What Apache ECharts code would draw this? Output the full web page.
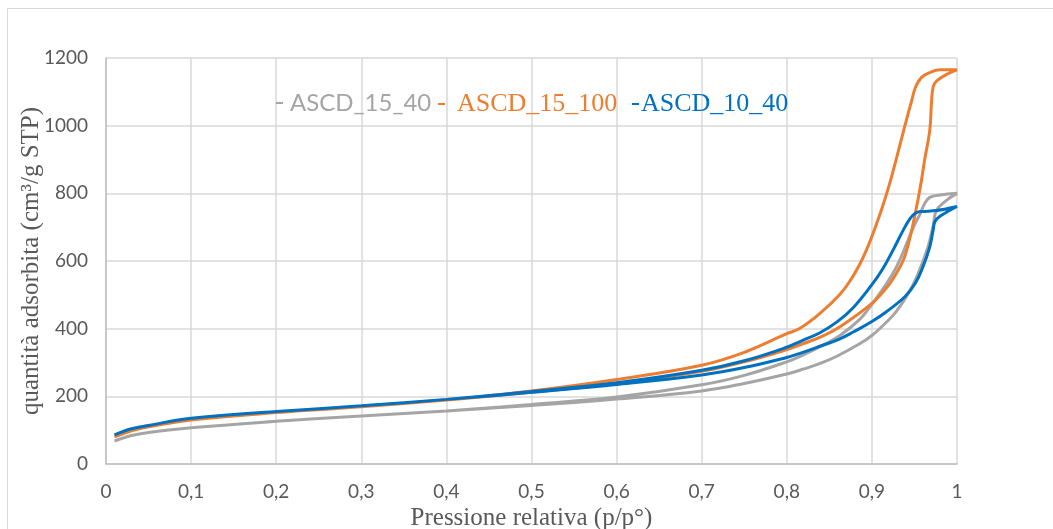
<!DOCTYPE html>
<html>
<head>
<meta charset="utf-8">
<script src="https://cdn.jsdelivr.net/npm/echarts@6/dist/echarts.min.js"></script>
<style>html,body{margin:0;padding:0;background:#fff}#c{width:1053px;height:529px}</style>
</head>
<body>
<div id="c"></div>
<script>
// Series names
const seriesNames = ['ASCD_15_40', 'ASCD_15_100', 'ASCD_10_40'];
const xTicks = [0, 0.1, 0.2, 0.3, 0.4, 0.5, 0.6, 0.7, 0.8, 0.9, 1];
const yTicks = [0, 200, 400, 600, 800, 1000, 1200];

// ASCD_15_40 : adsorption (p up) then desorption (p down)
const gray15_40 = [
  [0.01,68],[0.03,84],[0.05,93],[0.1,107],[0.2,126],[0.3,142],[0.4,157],[0.5,173],
  [0.6,192],[0.7,216],[0.75,238],[0.8,266],[0.82,281],[0.84,298],[0.86,320],[0.886,356],
  [0.9,380],[0.91,402],[0.929,452],[0.945,514],[0.956,573],[0.966,642],[0.972,705],
  [0.976,750],[0.988,780],[1.0,800],
  [0.98,795],[0.968,788],[0.962,770],[0.957,741],[0.949,701],[0.941,652],[0.929,583],
  [0.915,525],[0.9,472],[0.886,428],[0.8625,380],[0.84,348],[0.82,323],[0.8,302],
  [0.75,262],[0.7,234],[0.6,198],[0.5,176],[0.4,157]
];

// ASCD_15_100
const orange15_100 = [
  [0.01,80],[0.03,98],[0.05,110],[0.1,130],[0.2,152],[0.3,169],[0.4,189],[0.5,212],
  [0.6,238],[0.7,274],[0.75,302],[0.8,338],[0.8155,352],[0.84,376],[0.8625,406],
  [0.9,475],[0.917,520],[0.925,548],[0.937,603],[0.945,672],[0.951,741],[0.957,820],
  [0.962,899],[0.968,987],[0.970,1067],[0.972,1115],[0.976,1132],[0.988,1152],[1.0,1165],
  [0.98,1165],[0.968,1157],[0.958,1142],[0.951,1112],[0.947,1076],[0.939,1002],
  [0.929,905],[0.921,830],[0.913,765],[0.904,700],[0.894,635],[0.886,592],[0.874,540],
  [0.8625,502],[0.839,445],[0.8155,401],[0.8,385],[0.75,330],[0.7,292],[0.6,250],
  [0.5,216],[0.4,189]
];

// ASCD_10_40
const blue10_40 = [
  [0.01,86],[0.03,104],[0.05,114],[0.1,135],[0.2,155],[0.3,172],[0.4,191],[0.5,212],
  [0.6,235],[0.7,263],[0.75,285],[0.8,315],[0.8155,327],[0.839,348],[0.8625,370],
  [0.878,390],[0.9,421],[0.917,450],[0.939,495],[0.951,534],[0.96,583],[0.968,642],
  [0.972,692],[0.974,716],[0.98,732],[1.0,761],
  [0.976,749],[0.957,746],[0.951,741],[0.945,726],[0.937,692],[0.925,633],[0.913,578],
  [0.9,530],[0.878,462],[0.859,420],[0.839,388],[0.8155,362],[0.8,345],[0.75,305],
  [0.7,277],[0.6,240],[0.5,214],[0.4,191]
];

const colors = ['#A5A5A5', '#ED7D31', '#0070C0'];
const dataSets = [gray15_40, orange15_100, blue10_40];

const chart = echarts.init(document.getElementById('c'));
const legendFonts = ['Lato', 'Liberation Serif', 'Liberation Serif'];
const legendSizes = [24, 26, 26];
const legendLeft = [271, 433, 627];
const legendPad = [2, 7, -3];

chart.setOption({
  animation: false,
  backgroundColor: '#fff',
  graphic: [{
    type: 'rect', silent: true,
    shape: { x: 7.5, y: 8.5, width: 1070, height: 560 },
    style: { fill: 'none', stroke: '#d9d9d9', lineWidth: 1 }
  }],
  grid: { left: 106, right: 96, top: 58, bottom: 65, containLabel: false, outerBoundsMode: 'none' },
  legend: seriesNames.map((n, i) => ({
    data: [{ name: n, textStyle: { color: colors[i], fontFamily: legendFonts[i], fontSize: legendSizes[i] } }],
    left: legendLeft[i], top: 86,
    itemWidth: 7, itemHeight: 2, itemGap: 0,
    icon: 'rect',
    textStyle: { fontSize: legendSizes[i], padding: [0, 0, 0, legendPad[i]] }
  })),
  xAxis: {
    type: 'value', min: 0, max: 1, interval: 0.1,
    axisLine: { show: true, lineStyle: { color: '#bfbfbf', width: 1.5 } },
    axisTick: { show: false },
    splitLine: { show: true, lineStyle: { color: '#d9d9d9', width: 1.5 } },
    axisLabel: {
      color: '#595959', fontFamily: 'Lato', fontSize: 19, margin: 18,
      formatter: v => String(Math.round(v * 10) / 10).replace('.', ',')
    },
    name: 'Pressione relativa (p/p°)', nameLocation: 'middle', nameGap: 42,
    nameMoveOverlap: false,
    nameTextStyle: { color: '#595959', fontFamily: 'Liberation Serif', fontSize: 25 }
  },
  yAxis: {
    type: 'value', min: 0, max: 1200, interval: 200,
    axisLine: { show: true, lineStyle: { color: '#bfbfbf', width: 1.5 } },
    axisTick: { show: false },
    splitLine: { show: true, lineStyle: { color: '#d9d9d9', width: 1.5 } },
    axisLabel: { color: '#595959', fontFamily: 'Lato', fontSize: 19, margin: 18,
      formatter: v => String(v) },
    name: 'quantità adsorbita (cm³/g STP)', nameLocation: 'middle', nameGap: 62,
    nameMoveOverlap: false,
    nameTextStyle: { color: '#595959', fontFamily: 'Liberation Serif', fontSize: 25 }
  },
  series: seriesNames.map((n, i) => ({
    name: n, type: 'line', data: dataSets[i], smooth: 0.4,
    showSymbol: false, symbol: 'none',
    lineStyle: { color: colors[i], width: 3 },
    itemStyle: { color: colors[i] },
    z: 2 + i
  }))
});
</script>
</body>
</html>
